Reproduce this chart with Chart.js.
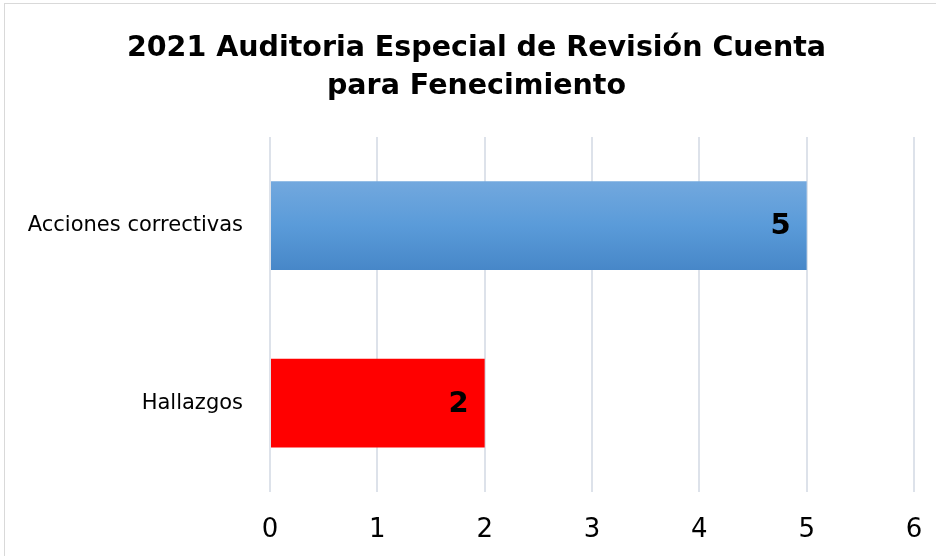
<!DOCTYPE html>
<html>
<head>
<meta charset="utf-8">
<script src="https://cdn.jsdelivr.net/npm/chart.js@4/dist/chart.umd.min.js"></script>
<style>
  html, body { margin: 0; padding: 0; background: #fff; overflow: hidden; }
  #frame { position: absolute; left: 4px; top: 3px; width: 1000px; height: 1000px; border: 1px solid #d9d9d9; }
  #chart { position: absolute; left: 0; top: 0; }
</style>
</head>
<body>
<div id="frame"></div>
<canvas id="chart" width="936" height="556"></canvas>
<script>
const categories = ['Acciones correctivas', 'Hallazgos']
const values = [5, 2]
const xTicks = [0, 1, 2, 3, 4, 5, 6]
const titleLines = ['2021 Auditoria Especial de Revisión Cuenta', 'para Fenecimiento']

const fontFamily = '"DejaVu Sans", Verdana, sans-serif'

// blue bar gets a soft vertical gradient like the office chart
const barColor = (ctx) => {
  const chart = ctx.chart
  if (ctx.dataIndex === 1) return '#ff0000'
  const area = chart.chartArea
  if (!area) return '#5b9bd5'
  const y = chart.scales.y.getPixelForValue(ctx.dataIndex)
  const half = (area.bottom - area.top) / categories.length / 4
  const g = chart.ctx.createLinearGradient(0, y - half, 0, y + half)
  g.addColorStop(0, '#72a8de')
  g.addColorStop(0.5, '#5a9bd9')
  g.addColorStop(1, '#4787c8')
  return g
}

const valueLabels = {
  id: 'valueLabels',
  afterDatasetsDraw(chart) {
    const { ctx } = chart
    const meta = chart.getDatasetMeta(0)
    ctx.save()
    ctx.font = 'bold 29px ' + fontFamily
    ctx.fillStyle = '#000'
    ctx.textAlign = 'right'
    ctx.textBaseline = 'middle'
    meta.data.forEach((bar, i) => {
      ctx.fillText(String(values[i]), bar.x - 16, bar.y + 1)
    })
    ctx.restore()
  }
}

new Chart(document.getElementById('chart'), {
  type: 'bar',
  data: {
    labels: categories,
    datasets: [{
      data: values,
      backgroundColor: barColor,
      borderWidth: 0,
      categoryPercentage: 1,
      barPercentage: 0.5
    }]
  },
  options: {
    indexAxis: 'y',
    responsive: false,
    animation: false,
    devicePixelRatio: 1,
    layout: { padding: { left: 24, right: 7, top: 0, bottom: 0 } },
    plugins: {
      legend: { display: false },
      tooltip: { enabled: false },
      title: {
        display: true,
        text: titleLines,
        color: '#000',
        font: { family: fontFamily, size: 28.5, weight: 'bold', lineHeight: 1.35 },
        padding: { top: 29, bottom: 31 }
      }
    },
    scales: {
      x: {
        min: 0,
        max: 6,
        afterBuildTicks: (axis) => { axis.ticks = xTicks.map(v => ({ value: v })) },
        afterFit: (axis) => {
          axis.height = 64
          axis.paddingRight = 22
        },
        grid: { color: '#dde2ea', lineWidth: 2, drawTicks: false },
        border: { display: false },
        ticks: { color: '#000', padding: 23, font: { family: fontFamily, size: 26 } }
      },
      y: {
        afterFit: (axis) => { axis.width = 246 },
        grid: { display: false },
        border: { display: false },
        ticks: { color: '#000', padding: 19, font: { family: fontFamily, size: 21 } }
      }
    }
  },
  plugins: [valueLabels]
})
</script>
</body>
</html>
